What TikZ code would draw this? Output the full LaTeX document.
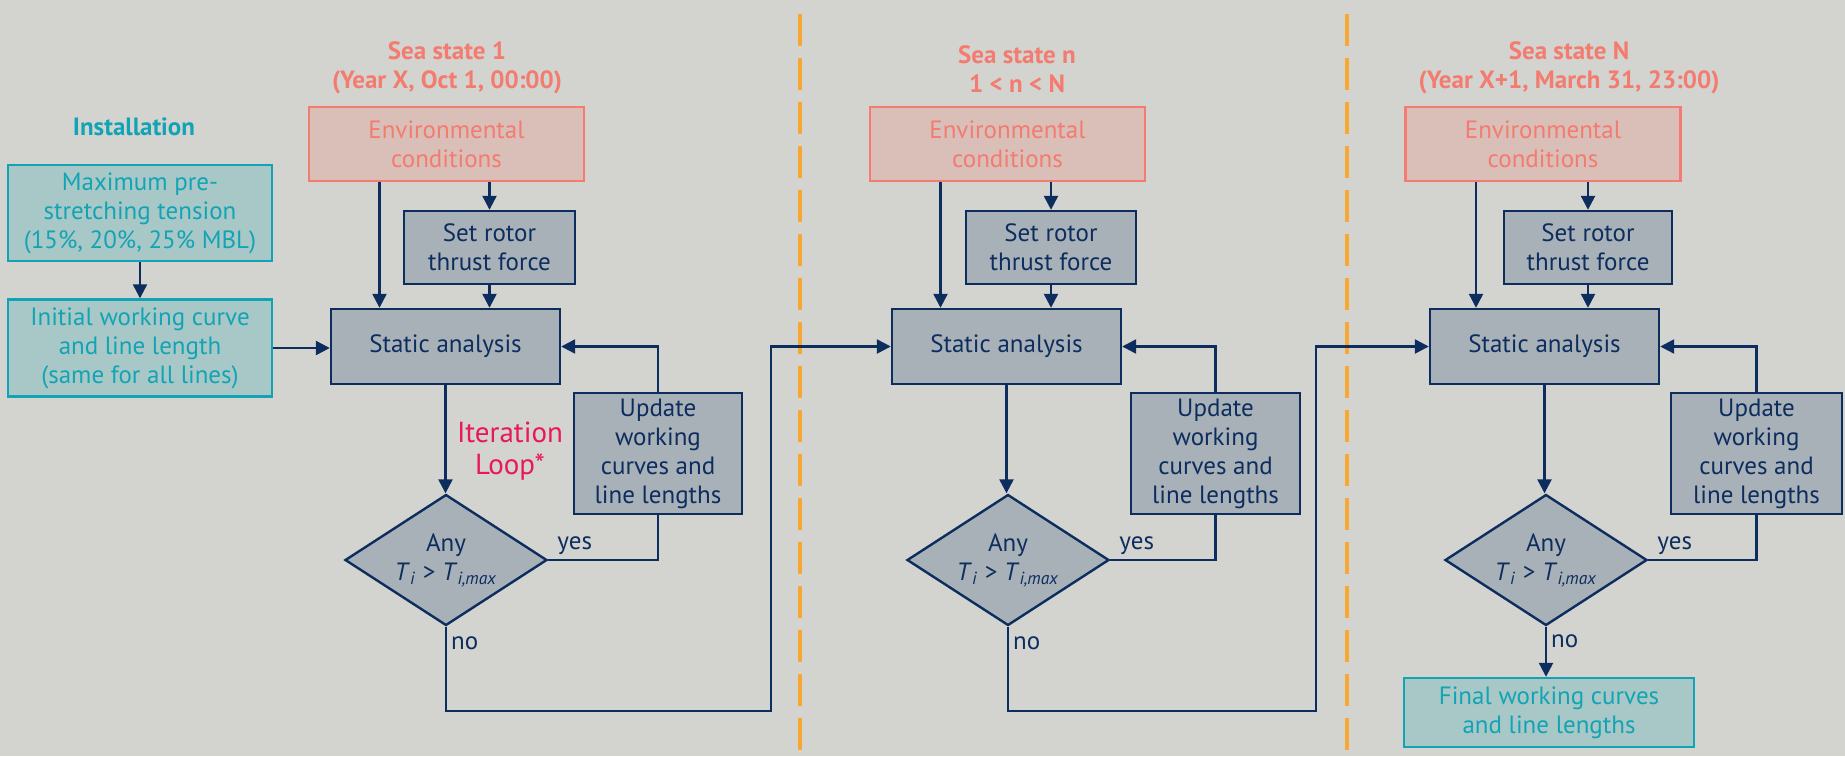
\documentclass[tikz,border=0pt]{standalone}
\usepackage{fontspec}
\setmainfont{PT Sans}
\usepackage{tikz}
\usetikzlibrary{arrows.meta,positioning,shapes.geometric}
\definecolor{bg}{HTML}{D3D4CF}
\definecolor{navy}{HTML}{0C2D5E}
\definecolor{slate}{HTML}{A9B1B8}
\definecolor{tealink}{HTML}{12A4B4}
\definecolor{tealfill}{HTML}{A8C8C8}
\definecolor{salmon}{HTML}{F47B6F}
\definecolor{salmonfill}{HTML}{D9BFB8}
\definecolor{crimson}{HTML}{E8185C}
\definecolor{amber}{HTML}{F6A833}
\newcommand{\Tbig}[1]{\textit{T}\textsubscript{\textit{#1}}}

\begin{document}
\begin{tikzpicture}[x=0.5pt,y=-0.5pt,>={Triangle[length=7pt,width=7pt]},
  font=\fontsize{12.5}{14.5}\selectfont,
  proc/.style={draw=navy,fill=slate,text=navy,line width=1.2pt,align=center,inner sep=0pt},
  envbox/.style={draw=salmon,fill=salmonfill,text=salmon,line width=1.2pt,align=center,inner sep=0pt,minimum width=137.5pt,minimum height=37pt},
  inst/.style={draw=tealink,fill=tealfill,text=tealink,line width=1.2pt,align=center,inner sep=0pt},
  test/.style={diamond,draw=navy,fill=slate,text=navy,line width=1.2pt,align=center,inner sep=0pt,shape aspect=1.54,minimum width=101pt,minimum height=65.5pt},
  head/.style={font=\fontsize{12.5}{14.5}\selectfont\bfseries,align=center},
  flow/.style={->,draw=navy,line width=1.2pt},
  link/.style={draw=navy,line width=1.2pt},
  tag/.style={text=navy,inner sep=2pt}]
\fill[bg] (0,0) rectangle (1845,756);
\useasboundingbox (0,0) rectangle (1845,756);

% separators
\draw[amber,line width=1.75pt,dash pattern=on 16pt off 6pt] (800,14) -- (800,756);
\draw[amber,line width=1.75pt,dash pattern=on 16pt off 6pt] (1347,14) -- (1347,756);

% installation
\node[head,text=tealink] (insthead) at (134,127) {Installation};
\node[inst,minimum width=132pt,minimum height=48pt] (maxpre) at (140,213) {Maximum pre-\\stretching tension\\(15\%, 20\%, 25\% MBL)};
\node[inst,minimum width=132pt,minimum height=48.5pt] (initcurve) at (140,348) {Initial working curve\\and line length\\(same for all lines)};

% sea state 1
\node[head,text=salmon] (title1) at (447,68) {Sea state 1\\(Year X, Oct 1, 00:00)};
\node[envbox] (env1) at (446.5,144) {Environmental\\conditions};
\node[proc,minimum width=85.5pt,minimum height=36.5pt] (rotor1) at (489.5,247.5) {Set rotor\\thrust force};
\node[proc,minimum width=114.5pt,minimum height=37.5pt] (static1) at (445.5,346.5) {Static analysis};
\node[test] (check1) at (446,560) {Any\\\Tbig{i} > \Tbig{i,max}};
\node[proc,minimum width=84pt,minimum height=60.5pt] (update1) at (658,453.5) {Update\\working\\curves and\\line lengths};
\node[text=crimson,align=center,font=\fontsize{14.5}{16}\selectfont] (iterlabel) at (510,451) {Iteration\\Loop*};
\coordinate (turn1) at (771,711);

% sea state n
\node[head,text=salmon] (title2) at (1017,69) {Sea state n\\1 < n < N};
\node[envbox] (env2) at (1007.5,144) {Environmental\\conditions};
\node[proc,minimum width=85pt,minimum height=36.5pt] (rotor2) at (1051,247.5) {Set rotor\\thrust force};
\node[proc,minimum width=114.5pt,minimum height=37.5pt] (static2) at (1006.5,346.5) {Static analysis};
\node[test] (check2) at (1008,560) {Any\\\Tbig{i} > \Tbig{i,max}};
\node[proc,minimum width=84.5pt,minimum height=60.5pt] (update2) at (1215.5,453.5) {Update\\working\\curves and\\line lengths};
\coordinate (turn2) at (1316,711);

% sea state N
\node[head,text=salmon] (title3) at (1569,68) {Sea state N\\(Year X+1, March 31, 23:00)};
\node[envbox] (env3) at (1543,144) {Environmental\\conditions};
\node[proc,minimum width=84pt,minimum height=36.5pt] (rotor3) at (1588,247.5) {Set rotor\\thrust force};
\node[proc,minimum width=114.5pt,minimum height=37.5pt] (static3) at (1544.5,346.5) {Static analysis};
\node[test] (check3) at (1546,560) {Any\\\Tbig{i} > \Tbig{i,max}};
\node[proc,minimum width=85.5pt,minimum height=60.5pt] (update3) at (1756.5,453.5) {Update\\working\\curves and\\line lengths};
\node[inst,minimum width=145pt,minimum height=34.5pt] (final) at (1549,712.5) {Final working curves\\and line lengths};

% connectors
\draw[flow] (maxpre) -- (initcurve);
\draw[flow] (initcurve.east) -- (initcurve.east -| static1.west);

\draw[flow] ([xshift=-33.5pt]env1.south) -- ([xshift=-33.5pt]env1.south |- static1.north);
\draw[flow] (env1.south -| rotor1.north) -- (rotor1.north);
\draw[flow] (rotor1.south) -- (rotor1.south |- static1.north);
\draw[flow] (static1.south) -- (static1.south |- check1.north);
\draw[link] (check1.east) node[tag,anchor=south west,xshift=2pt] (yes1) {yes} -| (update1.south);
\draw[flow] (update1.north) |- (static1.east);
\draw[flow] (check1.south) |- node[tag,pos=0.1,right] (no1) {no} (turn1) |- (static2.west);

\draw[flow] ([xshift=-33.5pt]env2.south) -- ([xshift=-33.5pt]env2.south |- static2.north);
\draw[flow] (env2.south -| rotor2.north) -- (rotor2.north);
\draw[flow] (rotor2.south) -- (rotor2.south |- static2.north);
\draw[flow] (static2.south) -- (static2.south |- check2.north);
\draw[link] (check2.east) node[tag,anchor=south west,xshift=2pt] (yes2) {yes} -| (update2.south);
\draw[flow] (update2.north) |- (static2.east);
\draw[flow] (check2.south) |- node[tag,pos=0.1,right] (no2) {no} (turn2) |- (static3.west);

\draw[flow] ([xshift=-33.5pt]env3.south) -- ([xshift=-33.5pt]env3.south |- static3.north);
\draw[flow] (env3.south -| rotor3.north) -- (rotor3.north);
\draw[flow] (rotor3.south) -- (rotor3.south |- static3.north);
\draw[flow] (static3.south) -- (static3.south |- check3.north);
\draw[link] (check3.east) node[tag,anchor=south west,xshift=2pt] (yes3) {yes} -| (update3.south);
\draw[flow] (update3.north) |- (static3.east);
\draw[flow] (check3.south) -- node[tag,pos=0.3,right] (no3) {no} (check3.south |- final.north);
\end{tikzpicture}
\end{document}
